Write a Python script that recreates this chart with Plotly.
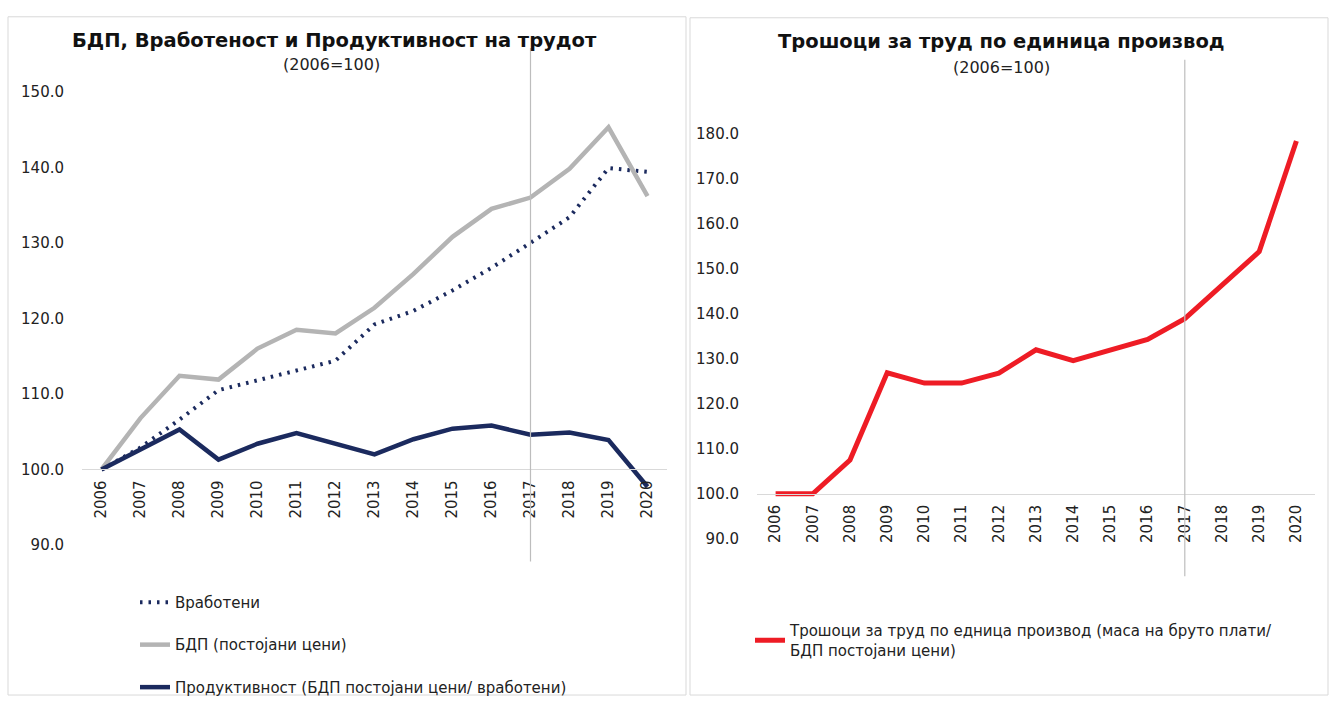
import plotly.graph_objects as go

W, H = 1330, 705

years = [str(y) for y in range(2006, 2021)]
employed = [100, 102.9, 106.6, 110.5, 111.8, 113.1, 114.4, 119.2, 121.0, 123.7, 126.7, 130.0, 133.4, 139.9, 139.4]
gdp = [100, 106.8, 112.4, 111.9, 116.0, 118.5, 118.0, 121.4, 125.9, 130.8, 134.5, 136.0, 139.8, 145.3, 136.2]
productivity = [100, 102.7, 105.3, 101.3, 103.4, 104.8, 103.4, 102.0, 104.0, 105.4, 105.8, 104.6, 104.9, 103.9, 97.7]
ulc = [100, 100, 107.5, 126.9, 124.6, 124.6, 126.8, 132.0, 129.6, 131.9, 134.3, 138.9, 146.2, 153.8, 178.4]

name_emp = "Вработени"
name_gdp = "БДП (постојани цени)"
name_prod = "Продуктивност (БДП постојани цени/ вработени)"
name_ulc = "Трошоци за труд по едница производ (маса на бруто плати/<br>БДП постојани цени)"

title_left = "БДП, Вработеност и Продуктивност на трудот"
title_right = "Трошоци за труд по единица производ"
subtitle = "(2006=100)"

marker_year = "2017"

NAVY = "#1b2a5e"
GRAY = "#b4b4b4"
RED = "#ee1c25"
FONT = "DejaVu Sans"

def px(x):
    return x / W

def py(y):
    return 1 - y / H

# left plot geometry
L_x = [px(82), px(667)]
L_yr = [90, 150]
L_y = [py(550), py(85)]
# right plot geometry
R_x = [px(757), px(1315)]
R_yr = [90, 180]
R_y = [py(543.7), py(128)]

def pos_of(val, yr, yd):
    return yd[0] + (val - yr[0]) / (yr[1] - yr[0]) * (yd[1] - yd[0])

fig = go.Figure()
fig.add_trace(go.Scatter(x=years, y=employed, name=name_emp, mode="lines",
                         line=dict(color=NAVY, width=4, dash="2.5px,6px"),
                         xaxis="x", yaxis="y", legend="legend", legendgroup="a"))
fig.add_trace(go.Scatter(x=years, y=gdp, name=name_gdp, mode="lines",
                         line=dict(color=GRAY, width=4.5),
                         xaxis="x", yaxis="y", legend="legend", legendgroup="b"))
fig.add_trace(go.Scatter(x=years, y=productivity, name=name_prod, mode="lines",
                         line=dict(color=NAVY, width=4.5),
                         xaxis="x", yaxis="y", legend="legend", legendgroup="c"))
fig.add_trace(go.Scatter(x=years, y=ulc, name=name_ulc, mode="lines",
                         line=dict(color=RED, width=5),
                         xaxis="x2", yaxis="y2", legend="legend2"))

tickfont = dict(family=FONT, size=15, color="#222222")

common_x = dict(type="category", tickangle=-90, showline=True, linecolor="#d9d9d9",
                linewidth=1, ticks="outside", ticklen=4, tickcolor="rgba(0,0,0,0)",
                showgrid=False, zeroline=False, tickfont=tickfont, range=[-0.5, 14.5],
                fixedrange=True)
common_y = dict(showgrid=False, zeroline=False, showline=False, dtick=10,
                tickformat=".1f", ticks="outside", ticklen=14,
                tickcolor="rgba(0,0,0,0)", tickfont=tickfont)

fig.update_layout(
    width=W, height=H,
    margin=dict(l=0, r=0, t=0, b=0),
    paper_bgcolor="white", plot_bgcolor="rgba(0,0,0,0)",
    font=dict(family=FONT, size=15, color="#222222"),
    xaxis=dict(domain=L_x, anchor="free", position=pos_of(100, L_yr, L_y), **common_x),
    yaxis=dict(domain=L_y, anchor="x", range=L_yr, **common_y),
    xaxis2=dict(domain=R_x, anchor="free", position=pos_of(100, R_yr, R_y), **common_x),
    yaxis2=dict(domain=R_y, anchor="x2", range=R_yr, **common_y),
    legend=dict(x=px(135), y=py(592), xanchor="left", yanchor="top",
                bgcolor="rgba(0,0,0,0)", tracegroupgap=20,
                font=dict(family=FONT, size=15, color="#222222")),
    legend2=dict(x=px(750), y=py(621), xanchor="left", yanchor="top",
                 bgcolor="rgba(0,0,0,0)",
                 font=dict(family=FONT, size=15, color="#222222")),
    showlegend=True,
)

shapes = [
    dict(type="rect", xref="paper", yref="paper", x0=px(8), x1=px(686), y0=py(704), y1=py(8),
         line=dict(color="#d9d9d9", width=1), fillcolor="rgba(0,0,0,0)", layer="below"),
    dict(type="rect", xref="paper", yref="paper", x0=px(690), x1=px(1328), y0=py(704), y1=py(9),
         line=dict(color="#d9d9d9", width=1), fillcolor="rgba(0,0,0,0)", layer="below"),
    dict(type="line", xref="x", yref="paper", x0=years.index(marker_year), x1=years.index(marker_year),
         y0=py(567), y1=py(40), line=dict(color="#bdbdbd", width=1.2)),
    dict(type="line", xref="x2", yref="paper", x0=years.index(marker_year), x1=years.index(marker_year),
         y0=py(582), y1=py(52), line=dict(color="#bdbdbd", width=1.2)),
]
fig.update_layout(shapes=shapes)

annotations = [
    dict(text="<b>" + title_left + "</b>", x=px(334), y=py(32), xref="paper", yref="paper",
         showarrow=False, xanchor="center", yanchor="middle",
         font=dict(family=FONT, size=19.5, color="#111111")),
    dict(text=subtitle, x=px(331), y=py(57), xref="paper", yref="paper",
         showarrow=False, xanchor="center", yanchor="middle",
         font=dict(family=FONT, size=16, color="#222222")),
    dict(text="<b>" + title_right + "</b>", x=px(1002), y=py(33), xref="paper", yref="paper",
         showarrow=False, xanchor="center", yanchor="middle",
         font=dict(family=FONT, size=19.5, color="#111111")),
    dict(text=subtitle, x=px(1002), y=py(60), xref="paper", yref="paper",
         showarrow=False, xanchor="center", yanchor="middle",
         font=dict(family=FONT, size=16, color="#222222")),
]
fig.update_layout(annotations=annotations)

fig.write_html("out.html", config={"displayModeBar": False},
               post_script="document.body.style.margin='0';document.body.style.overflow='hidden';")
